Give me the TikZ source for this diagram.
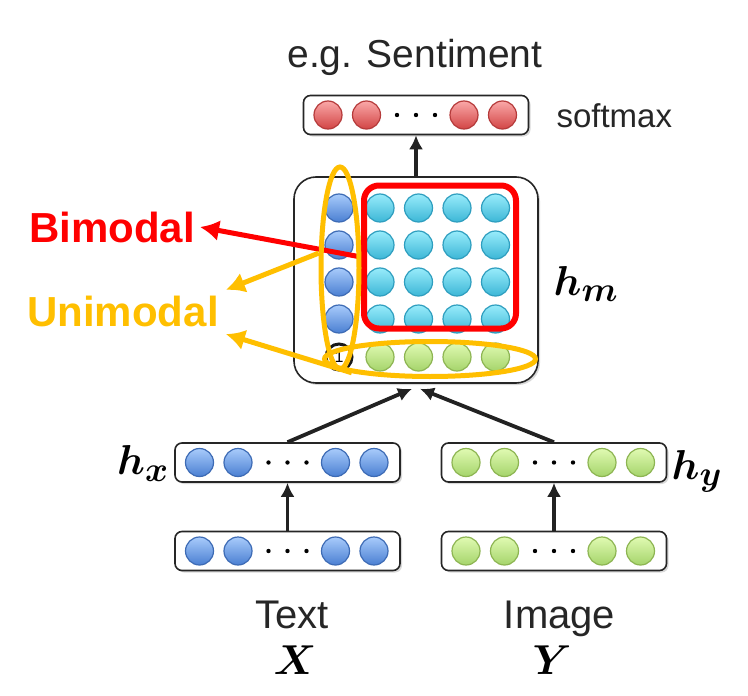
\documentclass[tikz,border=0pt]{standalone}
\usepackage{amsmath}
\usepackage{bm}
\usepackage{fontspec}
\setmainfont{Liberation Sans}
\usetikzlibrary{positioning,shapes.geometric,shadows,arrows.meta}

\definecolor{bluetop}{HTML}{A8CBFB}
\definecolor{bluebot}{HTML}{4A7FD2}
\definecolor{blueline}{HTML}{3D6BB5}
\definecolor{cyantop}{HTML}{98ECFB}
\definecolor{cyanbot}{HTML}{3CB6D6}
\definecolor{cyanline}{HTML}{2E9EBF}
\definecolor{greentop}{HTML}{E0FAB2}
\definecolor{greenbot}{HTML}{A5D46B}
\definecolor{greenline}{HTML}{8DB552}
\definecolor{redtop}{HTML}{FAA8A8}
\definecolor{redbot}{HTML}{D24545}
\definecolor{redline}{HTML}{B53A3A}
\definecolor{unicol}{HTML}{FFBF00}
\definecolor{bicol}{HTML}{FF0000}
\definecolor{arrowcol}{HTML}{222222}

\begin{document}
\begin{tikzpicture}[x=1pt,y=-1pt,>={Latex[length=14pt,width=14pt]},node distance=38.5pt,on grid,
        unit/.style={circle,inner sep=0pt,minimum size=28pt,line width=1.2pt},
        bluedot/.style={unit,draw=blueline,top color=bluetop,bottom color=bluebot},
        cyandot/.style={unit,draw=cyanline,top color=cyantop,bottom color=cyanbot},
        greendot/.style={unit,draw=greenline,top color=greentop,bottom color=greenbot},
        reddot/.style={unit,draw=redline,top color=redtop,bottom color=redbot},
        onedot/.style={circle,draw=black!90,line width=3pt,fill=white,inner sep=0pt,minimum size=26pt,font=\fontsize{16}{16}\selectfont},
        vecbox/.style={draw=black!85,line width=1.6pt,rounded corners=7pt,fill=white,minimum width=225pt,minimum height=39pt,
            drop shadow={shadow xshift=2pt,shadow yshift=-2pt,opacity=0.3}},
        feed/.style={->,draw=arrowcol,line width=3.8pt},
        pointer/.style={-{Latex[length=19pt,width=21pt]},line width=5pt},
        caption/.style={font=\fontsize{40}{48}\selectfont,text=black!85},
        modal/.style={font=\fontsize{42}{48}\selectfont\bfseries,inner sep=0pt},
        var/.style={font=\Huge,inner sep=0pt,scale=1.68,transform shape}]
    \useasboundingbox (0,0) rectangle (748,696);

    % vectors
    \node[vecbox] (sm) at (416,115) {};
    \node[vecbox] (hx) at (287.5,462.5) {};
    \node[vecbox] (hy) at (554,462.5) {};
    \node[vecbox] (x) at (287.5,551) {};
    \node[vecbox] (y) at (554,551) {};
    \foreach \b/\s in {sm/reddot,hx/bluedot,hy/greendot,x/bluedot,y/greendot} {
        \node[\s] (\b1) at ([xshift=-88pt]\b.center) {};
        \node[\s,right=of \b1] (\b2) {};
        \node[\s] (\b3) at ([xshift=48pt]\b.center) {};
        \node[\s,right=of \b3] (\b4) {};
        \foreach \d in {-19,0,19}
            \fill[black] ([xshift=\d pt]\b.center) circle (2.2pt);
    }

    % fused matrix
    \node[vecbox,minimum width=244pt,minimum height=206pt,rounded corners=22pt] (hm) at (416,280) {};
    \foreach \r [count=\i] in {208,245,282,319} {
        \node[bluedot] (u\i) at (339,\r) {};
        \foreach \c [count=\j] in {380,418.5,457,495.5}
            \node[cyandot] (m\i\j) at (\c,\r) {};
    }
    \node[onedot] (one) at (339,357) {1};
    \foreach \c [count=\j] in {380,418.5,457,495.5}
        \node[greendot] (v\j) at (\c,357) {};

    % arrows between layers
    \draw[feed] (hm.north) -- (sm.south);
    \draw[feed] (hx.north) -- ([xshift=-4pt,yshift=-5pt]hm.south);
    \draw[feed] (hy.north) -- ([xshift=4pt,yshift=-5pt]hm.south);
    \draw[feed] (x.north) -- (hx.south);
    \draw[feed] (y.north) -- (hy.south);

    % highlights
    \node[draw=bicol,line width=6pt,rounded corners=15pt,minimum width=152pt,minimum height=143pt] (bi) at (440,257) {};
    \node[modal,text=bicol] (bimodal) at (112,227) {Bimodal};
    \node[modal,text=unicol] (unimodal) at (123,311.5) {Unimodal};
    \draw[pointer,bicol] (bi.west) -- ([xshift=5pt]bimodal.east);
    \node[ellipse,draw=unicol,line width=5pt,minimum width=38pt,minimum height=202pt] (unix) at (340,268) {};
    \node[ellipse,draw=unicol,line width=5pt,minimum width=211pt,minimum height=35pt] (uniy) at (430,359) {};
    \draw[pointer,unicol] (unix.145) -- ([xshift=7pt,yshift=6pt]unimodal.north east);
    \draw[pointer,unicol] (uniy.190) -- ([xshift=7pt,yshift=-7pt]unimodal.south east);

    % labels
    \node[caption,anchor=base,font=\fontsize{39}{44}\selectfont] (task) at (415,67) {e.g. Sentiment};
    \node[caption,anchor=base west,font=\fontsize{33}{40}\selectfont] (softmax) at (553,127) {softmax};
    \node[var] (hmlabel) at (586,284) {$\bm{h_m}$};
    \node[var] (hxlabel) at (143,463.5) {$\bm{h_x}$};
    \node[var] (hylabel) at (697,471.5) {$\bm{h_y}$};
    \node[caption,anchor=base] (text) at (292,628) {Text};
    \node[caption,anchor=base] (image) at (559.5,628) {Image};
    \node[var] (xvar) at (295,660) {$\bm{X}$};
    \node[var] (yvar) at (552,660) {$\bm{Y}$};
\end{tikzpicture}
\end{document}
